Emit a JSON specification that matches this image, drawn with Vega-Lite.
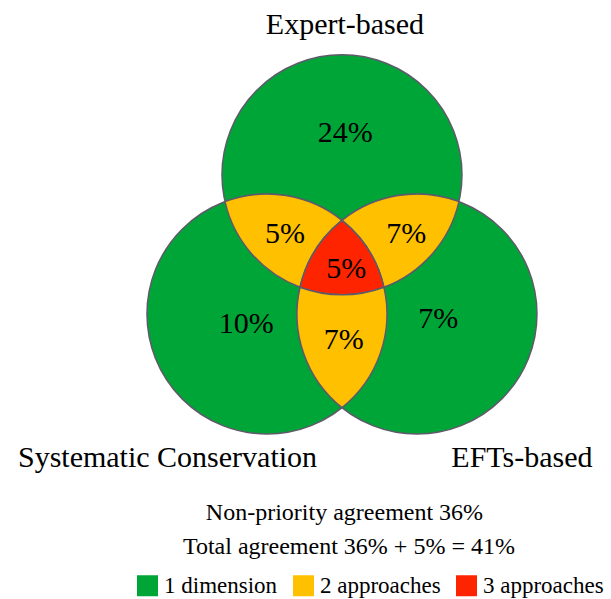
{
  "$schema": "https://vega.github.io/schema/vega-lite/v6.json",
  "width": 611,
  "height": 599,
  "padding": 0,
  "autosize": {"type": "none"},
  "background": "white",
  "config": {"view": {"stroke": null}, "font": "'Liberation Serif', 'Times New Roman', 'DejaVu Serif', serif"},
  "datasets": {
    "sets": [
      {"set": "Expert-based", "level": "1 dimension", "cx": 0, "cy": 11.6, "lx": 0.25, "ly": 23.33},
      {"set": "Systematic Conservation", "level": "1 dimension", "cx": -6.25, "cy": 0, "lx": -14.54, "ly": -12.75},
      {"set": "EFTs-based", "level": "1 dimension", "cx": 6.25, "cy": 0, "lx": 15.0, "ly": -12.75}
    ],
    "regions": [
      {"region": "Expert only", "level": "1 dimension", "share": 0.24, "x": 0.28, "y": 15.06},
      {"region": "Expert + Systematic", "level": "2 approaches", "share": 0.05, "x": -4.75, "y": 6.63},
      {"region": "Expert + EFTs", "level": "2 approaches", "share": 0.07, "x": 5.36, "y": 6.63},
      {"region": "All three", "level": "3 approaches", "share": 0.05, "x": 0.36, "y": 3.77},
      {"region": "Systematic only", "level": "1 dimension", "share": 0.10, "x": -7.98, "y": -0.83},
      {"region": "EFTs only", "level": "1 dimension", "share": 0.07, "x": 8.03, "y": -0.39},
      {"region": "Systematic + EFTs", "level": "2 approaches", "share": 0.07, "x": 0.14, "y": -2.17}
    ],
    "notes": [
      {"note": "Non-priority agreement 36%", "x": 0.21, "y": -16.58},
      {"note": "Total agreement 36% + 5% = 41%", "x": 0.58, "y": -19.42}
    ]
  },
  "layer": [
    {
      "data": {"name": "sets"},
      "mark": {"type": "point", "shape": "circle", "size": 57600, "filled": true, "opacity": 1, "stroke": "#5e5a6a", "strokeWidth": 1.5},
      "encoding": {
        "x": {"field": "cx", "type": "quantitative", "scale": {"domain": [-28.5, 22.42], "nice": false, "zero": false}, "axis": null},
        "y": {"field": "cy", "type": "quantitative", "scale": {"domain": [-23.75, 26.17], "nice": false, "zero": false}, "axis": null},
        "color": {
          "field": "level", "type": "nominal",
          "scale": {"domain": ["1 dimension", "2 approaches", "3 approaches"], "range": ["#00a537", "#ffc000", "#ff2400"]},
          "legend": {"orient": "none", "legendX": 136, "legendY": 574, "direction": "horizontal", "title": null, "symbolType": "square", "symbolSize": 441, "symbolStrokeWidth": 0, "symbolOpacity": 1, "labelFont": "'Liberation Serif', 'Times New Roman', 'DejaVu Serif', serif", "labelFontSize": 23, "labelColor": "black", "labelOffset": 5, "columnPadding": 14, "padding": 0, "labelLimit": 0}
        }
      }
    },
    {
      "data": {"name": "regions"},
      "transform": [{"filter": "datum.level !== '1 dimension'"}],
      "mark": {"type": "point", "size": 57600, "filled": true, "opacity": 1, "stroke": "#5e5a6a", "strokeWidth": 1.5},
      "encoding": {
        "x": {"field": "x", "type": "quantitative", "scale": {"domain": [-28.5, 22.42], "nice": false, "zero": false}, "axis": null},
        "y": {"field": "y", "type": "quantitative", "scale": {"domain": [-23.75, 26.17], "nice": false, "zero": false}, "axis": null},
        "color": {"field": "level", "type": "nominal"},
        "shape": {
          "field": "region", "type": "nominal", "legend": null,
          "scale": {
            "domain": ["Expert + Systematic", "Expert + EFTs", "All three", "Systematic + EFTs"],
            "range": [
              "M-0.4998,-0.2738 A1,1 0 0 1 0.475,-0.1176 A1,1 0 0 0 0.1252,0.4398 A1,1 0 0 1 -0.4998,-0.2738 Z",
              "M0.4388,-0.2738 A1,1 0 0 0 -0.536,-0.1176 A1,1 0 0 1 -0.1862,0.4398 A1,1 0 0 0 0.4388,-0.2738 Z",
              "M-0.036,-0.4036 A1,1 0 0 1 0.3138,0.1538 A1,1 0 0 1 -0.3858,0.1538 A1,1 0 0 1 -0.036,-0.4036 Z",
              "M-0.3638,-0.4402 A1,1 0 0 0 0.3358,-0.4402 A1,1 0 0 1 -0.014,0.5636 A1,1 0 0 1 -0.3638,-0.4402 Z"
            ]
          }
        }
      }
    },
    {
      "data": {"name": "regions"},
      "mark": {"type": "text", "font": "'Liberation Serif', 'Times New Roman', 'DejaVu Serif', serif", "fontSize": 30, "color": "black", "align": "center", "baseline": "middle"},
      "encoding": {
        "x": {"field": "x", "type": "quantitative"},
        "y": {"field": "y", "type": "quantitative"},
        "text": {"field": "share", "type": "quantitative", "format": ".0%"}
      }
    },
    {
      "data": {"name": "sets"},
      "mark": {"type": "text", "font": "'Liberation Serif', 'Times New Roman', 'DejaVu Serif', serif", "fontSize": 30, "color": "black", "align": "center", "baseline": "alphabetic"},
      "encoding": {
        "x": {"field": "lx", "type": "quantitative"},
        "y": {"field": "ly", "type": "quantitative"},
        "text": {"field": "set", "type": "nominal"}
      }
    },
    {
      "data": {"name": "notes"},
      "mark": {"type": "text", "font": "'Liberation Serif', 'Times New Roman', 'DejaVu Serif', serif", "fontSize": 24, "color": "black", "align": "center", "baseline": "middle"},
      "encoding": {
        "x": {"field": "x", "type": "quantitative"},
        "y": {"field": "y", "type": "quantitative"},
        "text": {"field": "note", "type": "nominal"}
      }
    }
  ]
}
